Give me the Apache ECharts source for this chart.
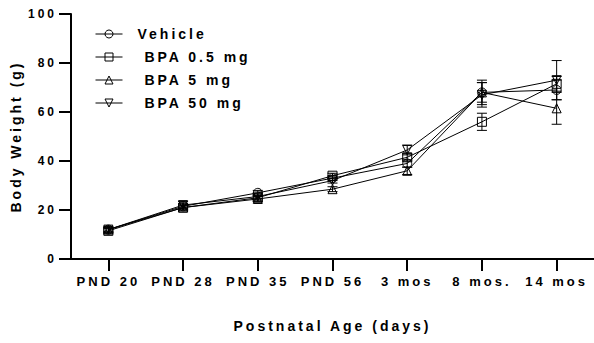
<!DOCTYPE html>
<html>
<head>
<meta charset="utf-8">
<script src="https://cdn.jsdelivr.net/npm/echarts@6/dist/echarts.min.js"></script>
<style>
  html, body { margin: 0; padding: 0; background: #fff; }
  #chart { width: 594px; height: 343px; }
  /* spaced-out lettering like the original figure */
  #chart text { letter-spacing: 3px; }
</style>
</head>
<body>
<div id="chart"></div>
<script>
// 时间点
const ages = ['PND 20', 'PND 28', 'PND 35', 'PND 56', '3 mos', '8 mos.', '14 mos']

// 各组平均体重 (g)
const vehicle = [12, 21.5, 27, 33, 39, 68, 69]
const bpa05 = [11.5, 21, 25, 34, 41.5, 56, 71.5]
const bpa5 = [12, 21, 24.5, 28.5, 36, 68, 61.5]
const bpa50 = [12, 22, 25.5, 32, 44.5, 67, 73]

// 误差 (SEM)
const vehicleErr = [1, 1, 1, 1, 1.5, 5, 4]
const bpa05Err = [1, 1, 1, 1, 1.5, 3.5, 3]
const bpa5Err = [1, 1, 1, 1, 1.5, 4, 6.5]
const bpa50Err = [1, 1.5, 1, 1, 2, 5, 8]

const yTicks = [0, 20, 40, 60, 80, 100]

const font = 'Liberation Sans'
const triDown = 'path://M0,0 L10,0 L5,9 Z'

const groups = [
  { name: 'Vehicle', data: vehicle, err: vehicleErr, symbol: 'circle' },
  { name: ' BPA 0.5 mg', data: bpa05, err: bpa05Err, symbol: 'rect' },
  { name: ' BPA 5 mg', data: bpa5, err: bpa5Err, symbol: 'triangle' },
  { name: ' BPA 50 mg', data: bpa50, err: bpa50Err, symbol: triDown }
]

const lineSeries = groups.map(g => ({
  name: g.name,
  type: 'line',
  data: g.data,
  symbol: g.symbol,
  symbolSize: 9,
  showAllSymbol: true,
  z: 3,
  lineStyle: { color: '#000', width: 1 },
  itemStyle: { color: 'rgba(0,0,0,0)', borderColor: '#000', borderWidth: 1 }
}))

// 误差棒
const errSeries = groups.map(g => ({
  name: g.name + ' SEM',
  type: 'custom',
  z: 2,
  data: g.data.map((v, i) => [i, v - g.err[i], v + g.err[i]]),
  encode: { x: 0, y: [1, 2] },
  renderItem: (params, api) => {
    const lo = api.coord([api.value(0), api.value(1)])
    const hi = api.coord([api.value(0), api.value(2)])
    const w = 5
    const style = { stroke: '#000', lineWidth: 1 }
    return {
      type: 'group',
      children: [
        { type: 'line', shape: { x1: hi[0], y1: hi[1], x2: lo[0], y2: lo[1] }, style },
        { type: 'line', shape: { x1: hi[0] - w, y1: hi[1], x2: hi[0] + w, y2: hi[1] }, style },
        { type: 'line', shape: { x1: lo[0] - w, y1: lo[1], x2: lo[0] + w, y2: lo[1] }, style }
      ]
    }
  }
}))

const chart = echarts.init(document.getElementById('chart'), null, { renderer: 'svg' })

chart.setOption({
  animation: false,
  backgroundColor: '#fff',
  textStyle: { fontFamily: font, fontWeight: 'bold', color: '#000' },
  legend: {
    orient: 'vertical',
    left: 95,
    top: 27,
    padding: 0,
    itemWidth: 27,
    itemHeight: 10,
    itemGap: 9,
    data: groups.map(g => g.name),
    lineStyle: { width: 1 },
    itemStyle: { borderWidth: 1 },
    textStyle: { fontFamily: font, fontWeight: 'bold', fontSize: 14, color: '#000', padding: [0, 0, 0, 10] }
  },
  grid: { left: 71, top: 14, width: 527, bottom: 84, containLabel: false },
  xAxis: {
    type: 'category',
    data: ages,
    name: 'Postnatal Age (days)',
    nameLocation: 'middle',
    nameGap: 60,
    nameTextStyle: { fontFamily: font, fontWeight: 'bold', fontSize: 14, color: '#000' },
    axisLine: { lineStyle: { color: '#000', width: 2 } },
    axisTick: { show: true, inside: false, alignWithLabel: true, length: 12, lineStyle: { width: 2, color: '#000' } },
    axisLabel: { fontFamily: font, fontWeight: 'bold', fontSize: 13, color: '#000', margin: 16, interval: 0 }
  },
  yAxis: {
    type: 'value',
    min: yTicks[0],
    max: yTicks[yTicks.length - 1],
    interval: 20,
    name: 'Body Weight (g)',
    nameLocation: 'middle',
    nameGap: 48,
    nameTextStyle: { fontFamily: font, fontWeight: 'bold', fontSize: 14, color: '#000' },
    axisLine: { show: true, lineStyle: { color: '#000', width: 2 } },
    axisTick: { show: true, inside: false, length: 12, lineStyle: { width: 2, color: '#000' } },
    axisLabel: { fontFamily: font, fontWeight: 'bold', fontSize: 12, color: '#000', margin: 14 },
    splitLine: { show: false }
  },
  series: [...errSeries, ...lineSeries]
})
</script>
</body>
</html>
